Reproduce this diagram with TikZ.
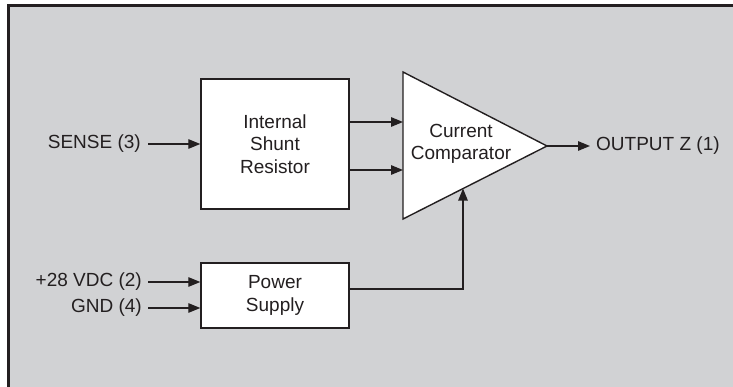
\documentclass[tikz,border=0pt]{standalone}
\usepackage{fontspec}
\setmainfont{Liberation Sans}
\usetikzlibrary{arrows.meta,calc}
\definecolor{bggray}{RGB}{209,210,212}
\definecolor{ink}{RGB}{35,31,32}
\tikzset{
  blockbox/.style={draw=ink,line width=1.4pt,fill=white,minimum width=148pt,inner sep=0pt,align=center,text=ink,font=\fontsize{19}{22.5}\selectfont},
  lbl/.style={inner sep=0pt,text=ink,font=\fontsize{19}{22.5}\selectfont},
  conn/.style={draw=ink,line width=1.3pt,-{Triangle[length=12pt,width=9.5pt]}},
  wire/.style={draw=ink,line width=1.3pt}
}
\begin{document}
\begin{tikzpicture}[x=1pt,y=-1pt]
\useasboundingbox (0,0) rectangle (733,387);
\fill[bggray] (7,4) rectangle (734,388);
\draw[ink,line width=2.6pt] (8.3,388) -- (8.3,5.3) -- (734,5.3);
% blocks
\node[blockbox,minimum height=130pt] (shunt) at (275,144) {Internal\\Shunt\\Resistor};
\node[blockbox,minimum height=65pt] (power) at (275,295.5) {Power\\Supply};
% comparator triangle
\coordinate (ta) at (403,72);
\coordinate (tb) at (403,219);
\coordinate (apex) at (547,146);
\draw[ink,line width=1.4pt,fill=white,line join=miter] (ta) -- (apex) -- (tb) -- cycle;
\node[lbl,align=center] (comp) at (461,144) {Current\\Comparator};
\coordinate (in1) at (403,122);
\coordinate (in2) at (403,170);
\coordinate (vin) at ($(tb)!0.4167!(apex)$);
% labels
\node[lbl,anchor=east] (sense) at (141,144) {SENSE (3)};
\node[lbl,anchor=east] (vdc) at (142,282) {+28 VDC (2)};
\node[lbl,anchor=east] (gnd) at (142,308) {GND (4)};
\node[lbl,anchor=west] (out) at (596,146) {OUTPUT Z (1)};
% connectors
\draw[conn] ([xshift=7pt]sense.east) -- (sense.east -| shunt.west);
\draw[conn] ([xshift=6pt]vdc.east) -- (vdc.east -| power.west);
\draw[conn] ([xshift=6pt]gnd.east) -- (gnd.east -| power.west);
\draw[conn] (in1 -| shunt.east) -- (in1);
\draw[conn] (in2 -| shunt.east) -- (in2);
\draw[conn] (apex) -- ([xshift=-6pt]out.west);
\coordinate (pout) at ([yshift=6.5pt]power.east);
\draw[conn] (pout) -| (vin);
\end{tikzpicture}
\end{document}
